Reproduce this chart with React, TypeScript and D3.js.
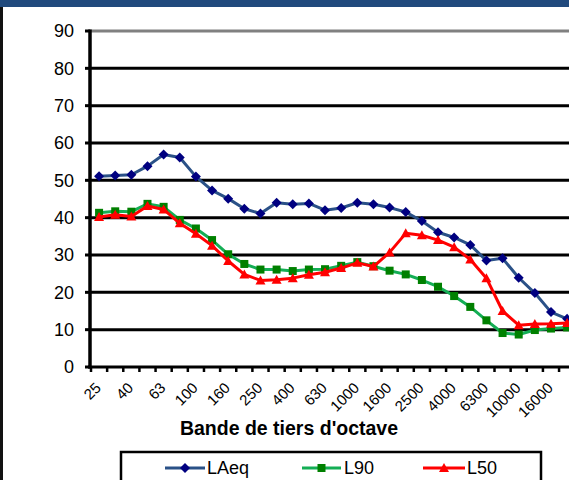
import React from "react";
import * as d3 from "d3";

const categories = ["25","31.5","40","50","63","80","100","125","160","200","250","315","400","500","630","800","1000","1250","1600","2000","2500","3150","4000","5000","6300","8000","10000","12500","16000","20000"];
const laeq = [51.1,51.3,51.5,53.8,56.9,56.1,51.0,47.3,45.1,42.4,41.1,44.0,43.6,43.8,42.0,42.6,44.0,43.6,42.7,41.5,39.1,36.1,34.7,32.7,28.5,29.1,23.9,19.8,14.7,12.9];
const l90 = [41.3,41.7,41.6,43.7,42.9,39.4,37.1,34.0,30.2,27.6,26.1,26.1,25.7,26.1,26.2,27.1,28.1,27.0,25.8,24.8,23.3,21.5,19.0,16.1,12.5,9.1,8.7,9.9,10.3,10.6];
const l50 = [40.2,40.8,40.3,43.1,42.2,38.5,35.7,32.5,28.4,24.8,23.2,23.4,23.8,24.7,25.4,26.5,27.9,26.9,30.7,35.8,35.3,34.0,32.1,28.8,23.8,15.0,11.2,11.5,11.6,11.8];
const yTicks = [0,10,20,30,40,50,60,70,80,90];
const seriesNames = ["LAeq","L90","L50"];

const W = 569, H = 480;
const FONT = "'Liberation Sans', Arial, sans-serif";

export default function App() {
  const x = d3.scaleBand<string>().domain(categories).range([91, 91 + 30 * 16.14]).padding(0);
  const y = d3.scaleLinear().domain([0, 90]).range([367, 31]);
  const cx = (c: string) => (x(c) as number) + x.bandwidth() / 2;
  const line = d3.line<number>().x((_, i) => cx(categories[i])).y((v) => y(v));

  const series = [
    { name: seriesNames[0], data: laeq, line: "#2A5187", marker: "#000080", shape: "diamond" },
    { name: seriesNames[1], data: l90, line: "#14AE55", marker: "#008000", shape: "square" },
    { name: seriesNames[2], data: l50, line: "#FF0000", marker: "#FF0000", shape: "triangle" },
  ];

  const marker = (shape: string, px: number, py: number, color: string, key: any) => {
    if (shape === "diamond") {
      const s = 5;
      return <path key={key} d={`M${px},${py - s}L${px + s},${py}L${px},${py + s}L${px - s},${py}Z`} fill={color} />;
    }
    if (shape === "square") {
      const s = 4;
      return <rect key={key} x={px - s} y={py - s} width={2 * s} height={2 * s} fill={color} />;
    }
    const s = 5;
    return <path key={key} d={`M${px},${py - s}L${px + s},${py + 4}L${px - s},${py + 4}Z`} fill={color} />;
  };

  const boundaries = categories.map((c) => x(c) as number).concat([(x(categories[categories.length - 1]) as number) + x.bandwidth()]);

  const legendItems = [
    { x0: 165, x1: 205, tx: 207 },
    { x0: 302, x1: 341, tx: 344 },
    { x0: 423, x1: 465, tx: 467 },
  ];

  return (
    <div style={{ position: "absolute", left: 0, top: 0 }}>
      <svg width={W} height={H} style={{ display: "block", fontFamily: FONT }}>
        <rect x={0} y={0} width={W} height={H} fill="#fff" />
        <rect x={0} y={0} width={W} height={7} fill="#214A7D" />
        <rect x={0} y={7} width={3} height={H - 7} fill="#111" />

        {/* gridlines */}
        {yTicks.filter((t) => t > 0).map((t) => (
          <line key={t} x1={90} x2={W} y1={y(t)} y2={y(t)} stroke={t === 90 ? "#808080" : "#000"} strokeWidth={3} />
        ))}
        {/* y ticks & labels */}
        {yTicks.map((t) => (
          <g key={"yt" + t}>
            <line x1={85} x2={90} y1={y(t)} y2={y(t)} stroke="#000" strokeWidth={3} />
            <text x={74} y={y(t)} dy="0.36em" textAnchor="end" fontSize={18} fill="#000">{t}</text>
          </g>
        ))}
        {/* axes */}
        <line x1={90} x2={90} y1={y(90) - 1.5} y2={y(0) + 1.5} stroke="#000" strokeWidth={3.5} />
        <line x1={88} x2={W} y1={y(0)} y2={y(0)} stroke="#000" strokeWidth={3} />
        {boundaries.map((b, i) => (
          <line key={"xt" + i} x1={b} x2={b} y1={y(0)} y2={y(0) + 5} stroke="#000" strokeWidth={2.5} />
        ))}
        {categories.map((c, i) => i % 2 === 0 ? (
          <text key={"xl" + c} transform={`translate(${cx(c) - 1},${385}) rotate(-45)`} textAnchor="end" dy="0.36em" fontSize={15} fill="#000">{c}</text>
        ) : null)}
        <text x={289} y={435} textAnchor="middle" fontSize={19.5} fontWeight="bold" fill="#000">Bande de tiers d'octave</text>

        {/* series */}
        {series.map((s) => (
          <g key={s.name}>
            <path d={line(s.data) as string} fill="none" stroke={s.line} strokeWidth={3} strokeLinejoin="round" />
            {s.data.map((v, i) => marker(s.shape, cx(categories[i]), y(v), s.marker, i))}
          </g>
        ))}

        {/* legend */}
        <rect x={121} y={452} width={420} height={40} fill="#fff" stroke="#000" strokeWidth={2.5} />
        {series.map((s, i) => {
          const li = legendItems[i];
          const ly = 468;
          return (
            <g key={"lg" + s.name}>
              <line x1={li.x0} x2={li.x1} y1={ly} y2={ly} stroke={s.line} strokeWidth={3} />
              {marker(s.shape, (li.x0 + li.x1) / 2, ly, s.marker, "m")}
              <text x={li.tx} y={ly} dy="0.36em" fontSize={18} fill="#000">{s.name}</text>
            </g>
          );
        })}
      </svg>
    </div>
  );
}
